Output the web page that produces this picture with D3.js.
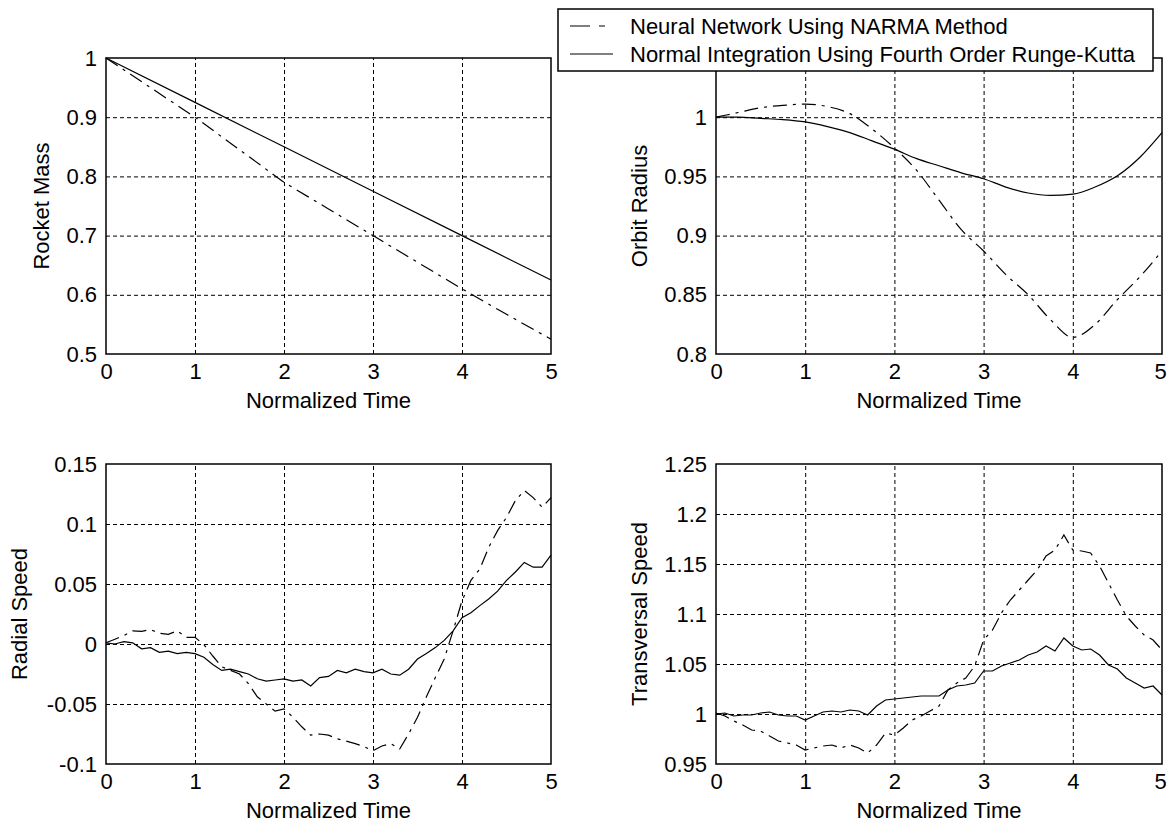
<!DOCTYPE html>
<html>
<head>
<meta charset="utf-8">
<script src="https://cdn.jsdelivr.net/npm/d3@7"></script>
<style>
  body { margin: 0; background: #fff; }
  svg text { font-family: "Liberation Sans", Arial, sans-serif; fill: #000; }
</style>
</head>
<body>
<div id="chart"></div>
<script>
/* Chart data */
const legendLabels = ["Neural Network Using NARMA Method", "Normal Integration Using Fourth Order Runge-Kutta"];
const xTicks = [0, 1, 2, 3, 4, 5];

// Rocket mass
const massTimeRK = [0, 1, 2, 3, 4, 5];
const massRK = [1, 0.925, 0.85, 0.775, 0.7, 0.625];
const massTimeNN = [0, 0.5, 1, 1.5, 2, 2.5, 3, 3.5, 4, 4.5, 5];
const massNN = [1, 0.95, 0.9, 0.845, 0.79, 0.745, 0.7, 0.655, 0.61, 0.567, 0.525];
const massTicks = [0.5, 0.6, 0.7, 0.8, 0.9, 1];
const massDomain = [0.5, 1];

// Orbit radius (top of the axis, 1.05, sits under the legend)
const orbitTime = [0, 0.25, 0.5, 0.75, 1, 1.25, 1.5, 1.75, 2, 2.25, 2.5, 2.75, 3, 3.25, 3.5, 3.75, 4, 4.25, 4.5, 4.75, 5];
const orbitRK = [1, 1, 0.999, 0.998, 0.996, 0.992, 0.987, 0.98, 0.973, 0.965, 0.959, 0.953, 0.948, 0.941, 0.936, 0.934, 0.935, 0.941, 0.9505, 0.966, 0.987];
const orbitNN = [1, 1.004, 1.008, 1.01, 1.011, 1.009, 1.003, 0.99, 0.974, 0.955, 0.93, 0.905, 0.887, 0.867, 0.85, 0.829, 0.814, 0.825, 0.846, 0.865, 0.887];
const orbitTicks = [0.8, 0.85, 0.9, 0.95, 1];
const orbitDomain = [0.8, 1.05];

// Speeds, sampled every 0.1 of normalized time
const speedTime = [0, 0.1, 0.2, 0.3, 0.4, 0.5, 0.6, 0.7, 0.8, 0.9, 1, 1.1, 1.2, 1.3, 1.4, 1.5, 1.6, 1.7, 1.8, 1.9, 2,
  2.1, 2.2, 2.3, 2.4, 2.5, 2.6, 2.7, 2.8, 2.9, 3, 3.1, 3.2, 3.3, 3.4, 3.5, 3.6, 3.7, 3.8, 3.9, 4,
  4.1, 4.2, 4.3, 4.4, 4.5, 4.6, 4.7, 4.8, 4.9, 5];
const radialRK = [0.001, 0, 0.002, 0.001, -0.004, -0.003, -0.007, -0.006, -0.008, -0.007, -0.008,
  -0.011, -0.017, -0.022, -0.021, -0.023, -0.025, -0.029, -0.031, -0.03, -0.029,
  -0.031, -0.03, -0.035, -0.028, -0.027, -0.022, -0.024, -0.021, -0.023, -0.024,
  -0.021, -0.025, -0.026, -0.021, -0.0125, -0.008, -0.003, 0.003, 0.011, 0.022,
  0.026, 0.032, 0.0375, 0.044, 0.053, 0.06, 0.068, 0.064, 0.064, 0.074];
const radialNN = [0.001, 0.004, 0.007, 0.011, 0.0105, 0.012, 0.009, 0.008, 0.011, 0.0055, 0.0055,
  -0.0005, -0.01, -0.019, -0.022, -0.025, -0.033, -0.044, -0.05, -0.056, -0.054,
  -0.061, -0.069, -0.076, -0.075, -0.076, -0.079, -0.081, -0.083, -0.0855, -0.089,
  -0.085, -0.083, -0.0875, -0.075, -0.061, -0.044, -0.028, -0.0125, 0.011, 0.036,
  0.053, 0.0625, 0.0805, 0.0945, 0.1055, 0.1195, 0.128, 0.122, 0.114, 0.122];
const radialTicks = [-0.1, -0.05, 0, 0.05, 0.1, 0.15];
const radialDomain = [-0.1, 0.15];

const transRK = [1, 1.001, 0.998, 0.999, 0.999, 1.001, 1.002, 0.999, 0.998, 0.998, 0.994,
  0.998, 1.002, 1.003, 1.002, 1.004, 1.003, 0.999, 1.008, 1.014, 1.015,
  1.016, 1.017, 1.018, 1.018, 1.018, 1.024, 1.028, 1.029, 1.031, 1.043,
  1.043, 1.048, 1.051, 1.054, 1.059, 1.062, 1.068, 1.063, 1.076, 1.068,
  1.064, 1.065, 1.059, 1.049, 1.045, 1.036, 1.031, 1.026, 1.028, 1.019];
const transNN = [1.001, 0.998, 0.993, 0.989, 0.984, 0.983, 0.978, 0.973, 0.971, 0.969, 0.964,
  0.966, 0.968, 0.969, 0.966, 0.969, 0.966, 0.961, 0.969, 0.981, 0.979,
  0.986, 0.994, 0.998, 1.003, 1.008, 1.024, 1.031, 1.036, 1.048, 1.074,
  1.084, 1.101, 1.114, 1.124, 1.134, 1.144, 1.158, 1.164, 1.179, 1.164,
  1.163, 1.161, 1.148, 1.131, 1.114, 1.098, 1.088, 1.079, 1.074, 1.064];
const transTicks = [0.95, 1, 1.05, 1.1, 1.15, 1.2, 1.25];
const transDomain = [0.95, 1.25];

/* Page and panel layout */
const width = 1167, height = 825;
const fontSize = 22;
const dashNN = "14,6,3,6";

const svg = d3.select("#chart")
  .append("svg")
    .attr("width", width)
    .attr("height", height)
    .attr("viewBox", [0, 0, width, height]);

const panels = [
  {left: 106, right: 551, top: 58, bottom: 354, ylabel: "Rocket Mass", ylabelX: 41, ticks: massTicks, domain: massDomain,
   rk: massTimeRK.map((t, i) => [t, massRK[i]]), nn: massTimeNN.map((t, i) => [t, massNN[i]]), smooth: false},
  {left: 716, right: 1162, top: 58, bottom: 354, ylabel: "Orbit Radius", ylabelX: 639, ticks: orbitTicks, domain: orbitDomain,
   rk: orbitTime.map((t, i) => [t, orbitRK[i]]), nn: orbitTime.map((t, i) => [t, orbitNN[i]]), smooth: true},
  {left: 106, right: 551, top: 464, bottom: 764, ylabel: "Radial Speed", ylabelX: 19, ticks: radialTicks, domain: radialDomain,
   rk: speedTime.map((t, i) => [t, radialRK[i]]), nn: speedTime.map((t, i) => [t, radialNN[i]]), smooth: false},
  {left: 716, right: 1162, top: 464, bottom: 764, ylabel: "Transversal Speed", ylabelX: 639, ticks: transTicks, domain: transDomain,
   rk: speedTime.map((t, i) => [t, transRK[i]]), nn: speedTime.map((t, i) => [t, transNN[i]]), smooth: false}
];

const fmt = d => String(+d.toFixed(2));

panels.forEach(p => {
  const x = d3.scaleLinear().domain([0, 5]).range([p.left, p.right]);
  const y = d3.scaleLinear().domain(p.domain).range([p.bottom, p.top]);
  const gridY = p.ticks.filter(v => v > p.domain[0] && v < p.domain[1]);
  const g = svg.append("g");

  // dashed grid
  g.append("g")
    .attr("transform", `translate(0,${p.bottom})`)
    .call(d3.axisBottom(x).tickValues(xTicks.slice(1, -1)).tickSize(-(p.bottom - p.top)).tickFormat(""))
    .call(a => a.select(".domain").remove())
    .call(a => a.selectAll("line").attr("stroke", "#000").attr("stroke-dasharray", "4,3"));
  g.append("g")
    .attr("transform", `translate(${p.left},0)`)
    .call(d3.axisLeft(y).tickValues(gridY).tickSize(-(p.right - p.left)).tickFormat(""))
    .call(a => a.select(".domain").remove())
    .call(a => a.selectAll("line").attr("stroke", "#000").attr("stroke-dasharray", "4,3"));

  // tick labels
  g.append("g")
    .attr("transform", `translate(0,${p.bottom})`)
    .call(d3.axisBottom(x).tickValues(xTicks).tickSize(0).tickPadding(9).tickFormat(fmt))
    .call(a => a.select(".domain").remove())
    .call(a => a.selectAll("text").attr("font-size", fontSize).attr("font-family", null)
      .attr("dx", d => (p.right > 1160 && d === 5) ? -2 : 0));
  g.append("g")
    .attr("transform", `translate(${p.left},0)`)
    .call(d3.axisLeft(y).tickValues(p.ticks).tickSize(0).tickPadding(9).tickFormat(fmt))
    .call(a => a.select(".domain").remove())
    .call(a => a.selectAll("text").attr("font-size", fontSize).attr("font-family", null));

  // curves
  const line = d3.line()
    .x(d => x(d[0]))
    .y(d => y(d[1]))
    .curve(p.smooth ? d3.curveMonotoneX : d3.curveLinear);
  g.append("path").datum(p.nn)
    .attr("d", line).attr("fill", "none").attr("stroke", "#000")
    .attr("stroke-width", 1.2).attr("stroke-dasharray", dashNN);
  g.append("path").datum(p.rk)
    .attr("d", line).attr("fill", "none").attr("stroke", "#000").attr("stroke-width", 1.2);

  // box
  g.append("rect")
    .attr("x", p.left).attr("y", p.top)
    .attr("width", p.right - p.left).attr("height", p.bottom - p.top)
    .attr("fill", "none").attr("stroke", "#000").attr("stroke-width", 1.5);

  // axis titles
  g.append("text")
    .attr("x", (p.left + p.right) / 2).attr("y", p.bottom + 54)
    .attr("text-anchor", "middle").attr("font-size", fontSize)
    .text("Normalized Time");
  g.append("text")
    .attr("transform", `translate(${p.ylabelX},${(p.top + p.bottom) / 2}) rotate(-90)`)
    .attr("text-anchor", "middle").attr("dy", "0.35em").attr("font-size", fontSize)
    .text(p.ylabel);
});

/* Legend */
const legend = svg.append("g");
legend.append("rect")
  .attr("x", 558).attr("y", 9).attr("width", 595).attr("height", 62)
  .attr("fill", "#fff").attr("stroke", "#000").attr("stroke-width", 1.5);
legendLabels.forEach((label, i) => {
  const ly = 26 + i * 28;
  legend.append("line")
    .attr("x1", 570).attr("x2", 613).attr("y1", ly).attr("y2", ly)
    .attr("stroke", "#000").attr("stroke-width", 1.2)
    .attr("stroke-dasharray", i === 0 ? "20,9,6,20" : null);
  legend.append("text")
    .attr("x", 630).attr("y", ly).attr("dy", "0.35em")
    .attr("font-size", fontSize)
    .text(label);
});
</script>
</body>
</html>
